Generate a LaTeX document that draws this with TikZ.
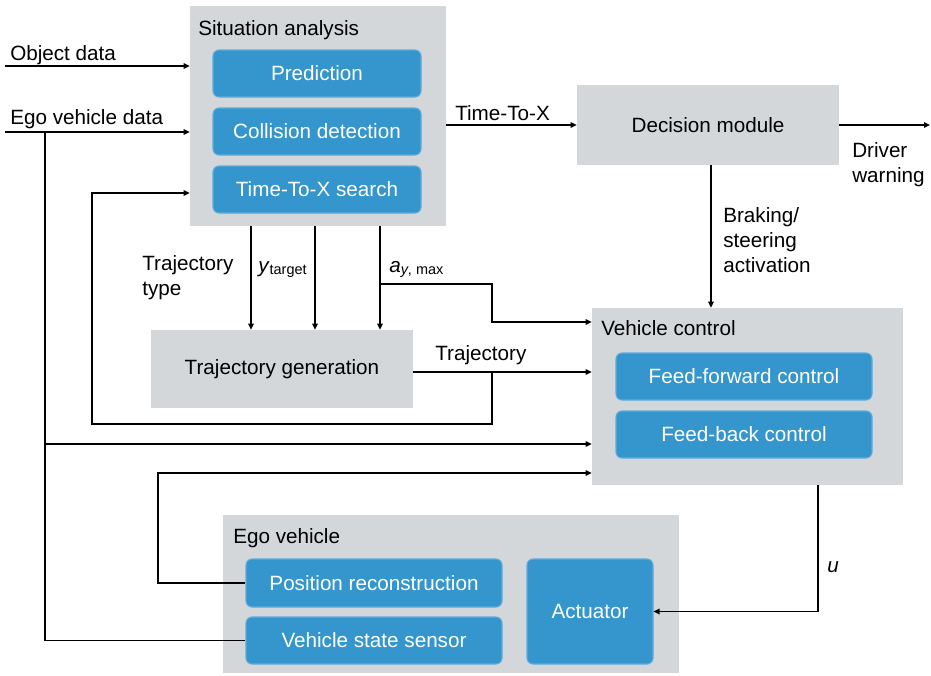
\documentclass[tikz,border=0pt]{standalone}
\usepackage{fontspec}
\setmainfont{Liberation Sans}
\usetikzlibrary{arrows.meta,calc}
\definecolor{boxgray}{RGB}{212,215,218}
\definecolor{boxblue}{RGB}{52,150,204}
\definecolor{blueedge}{RGB}{95,172,220}
\begin{document}
\begin{tikzpicture}[x=0.75pt,y=-0.75pt,
  every node/.style={font=\fontsize{15.5}{18.75}\selectfont},
  graybox/.style={fill=boxgray, draw=none, inner sep=0pt},
  bluebox/.style={fill=boxblue, draw=blueedge, line width=0.8pt, rounded corners=4.5pt, text=white, inner sep=0pt},
  lbl/.style={anchor=north west, inner sep=0pt, align=left},
  bl/.style={anchor=base west, inner sep=0pt},
  ln/.style={line width=1.3pt},
  arr/.style={line width=1.3pt, -{Triangle[length=4.5pt,width=4pt]}}]
\useasboundingbox (0,0) rectangle (931,675);

% gray containers
\node[graybox, minimum width=256*0.75pt, minimum height=220*0.75pt] (SA) at (318,116) {};
\node[graybox, minimum width=262*0.75pt, minimum height=80*0.75pt] (DM) at (708,125) {Decision module};
\node[graybox, minimum width=262*0.75pt, minimum height=78*0.75pt] (TG) at (282,369) {Trajectory generation};
\node[graybox, minimum width=311*0.75pt, minimum height=177*0.75pt] (VC) at (747.5,396.5) {};
\node[graybox, minimum width=456*0.75pt, minimum height=158*0.75pt] (EV) at (451,594) {};

% titles
\node[bl] (tSA) at (198,35) {Situation analysis};
\node[bl] (tVC) at (601,335) {Vehicle control};
\node[bl] (tEV) at (233,543) {Ego vehicle};

% blue boxes
\node[bluebox, minimum width=208*0.75pt, minimum height=47*0.75pt] (Pred) at (317,73.5) {Prediction};
\node[bluebox, minimum width=208*0.75pt, minimum height=47*0.75pt] (Coll) at (317,131.5) {Collision detection};
\node[bluebox, minimum width=208*0.75pt, minimum height=47*0.75pt] (TTX) at (317,189.5) {Time-To-X search};
\node[bluebox, minimum width=256*0.75pt, minimum height=47*0.75pt] (FF) at (744,376.5) {Feed-forward control};
\node[bluebox, minimum width=256*0.75pt, minimum height=47*0.75pt] (FB) at (744,434.5) {Feed-back control};
\node[bluebox, minimum width=256*0.75pt, minimum height=48*0.75pt] (PR) at (374,583) {Position reconstruction};
\node[bluebox, minimum width=256*0.75pt, minimum height=47*0.75pt] (VSS) at (374,640.5) {Vehicle state sensor};
\node[bluebox, minimum width=126*0.75pt, minimum height=105*0.75pt] (Act) at (590,611.5) {Actuator};

% labels
\node[bl] (lOD) at (10,60) {Object data};
\node[bl] (lED) at (10,124) {Ego vehicle data};
\node[bl] (lTTX) at (455,120) {Time-To-X};
\node[lbl] (lDW) at (852,142) {Driver\\warning};
\node[lbl] (lBR) at (723,207) {Braking/\\steering\\activation};
\node[lbl] (lTT) at (142,255) {Trajectory\\type};
\node[bl] (lYT) at (258,272) {\textit{y}\textsubscript{target}};
\node[bl] (lAY) at (389,272) {\textit{a}\textsubscript{\textit{y}, max}};
\node[bl] (lTR) at (435,360) {Trajectory};
\node[bl] (lU) at (827,572) {\textit{u}};

% coordinates
\coordinate (od) at (5,66);
\coordinate (ed) at (5,132);
\coordinate (ej) at (45,132);
\coordinate (e444) at (45,444);
\coordinate (c1) at (251,0);
\coordinate (c2) at (315,0);
\coordinate (c3) at (380,0);
\coordinate (ab) at (380,284);
\coordinate (ab2) at (492,322);
\coordinate (tgo) at (413,372);
\coordinate (tj) at (492,372);
\coordinate (tj2) at (492,424);
\coordinate (fl) at (92,424);
\coordinate (fl2) at (92,193);
\coordinate (dw) at (930,125);
\coordinate (bk) at (711,0);
\coordinate (uc) at (818,0);
\coordinate (fbk) at (158,473);

% connectors
\draw[arr] (od) -- (od -| SA.west);
\draw[arr] (ed) -- (ed -| SA.west);
\draw[ln] (ej) |- (VSS.west);
\draw[arr] (e444) -- (e444 -| VC.west);
\draw[arr] (c1 |- SA.south) -- (c1 |- TG.north);
\draw[arr] (c2 |- SA.south) -- (c2 |- TG.north);
\draw[arr] (c3 |- SA.south) -- (c3 |- TG.north);
\draw[arr] (ab) -| (ab2) -- (ab2 -| VC.west);
\draw[arr] (tgo) -- (tgo -| VC.west);
\draw[arr] (tj) -- (tj2) -- (fl) -- (fl2) -- (fl2 -| SA.west);
\draw[arr] (DM.west -| SA.east) -- (DM.west);
\draw[arr] (DM.east) -- (dw);
\draw[arr] (bk |- DM.south) -- (bk |- VC.north);
\draw[arr] (uc |- VC.south) |- (Act.east);
\draw[arr] (PR.west) -| (fbk) -- (fbk -| VC.west);
\end{tikzpicture}
\end{document}
